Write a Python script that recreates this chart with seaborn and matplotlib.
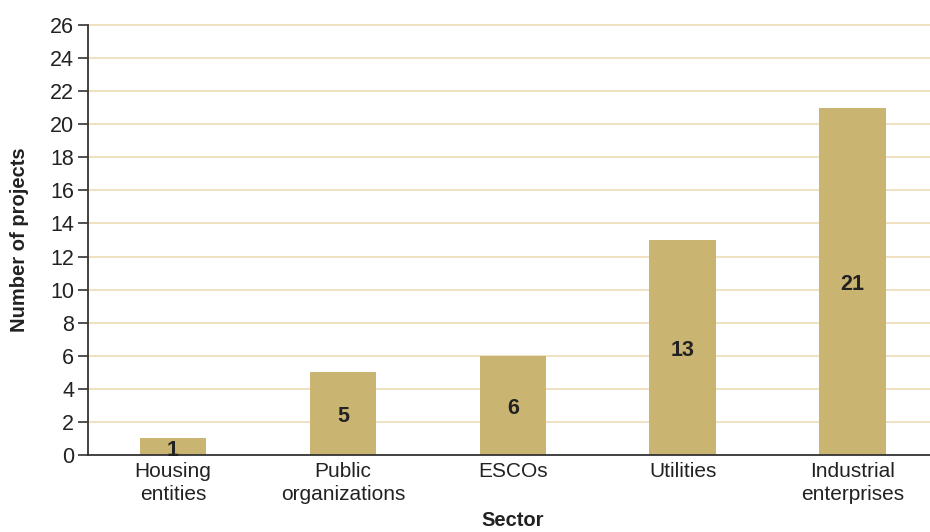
import matplotlib
matplotlib.use("Agg")
import matplotlib.pyplot as plt
import seaborn as sns
import pandas as pd
import numpy as np

sectors = ["Housing\nentities", "Public\norganizations", "ESCOs", "Utilities", "Industrial\nenterprises"]
projects = [1, 5, 6, 13, 21]
y_ticks = list(range(0, 27, 2))

sns.set_theme(style="white")
plt.rcParams["font.family"] = ["Liberation Sans", "DejaVu Sans"]

bar_color = "#C9B472"
grid_color = "#EBDDB8"
text_color = "#222222"
axis_color = "#333333"

df = pd.DataFrame({"Sector": sectors, "Projects": projects})

fig = plt.figure(figsize=(9.3, 5.32), dpi=100)
ax = fig.add_axes([88 / 930, 1 - 455 / 532, 1 - 88 / 930 + 0.008, (455 - 25) / 532])

sns.barplot(data=df, x="Sector", y="Projects", color=bar_color, width=0.39,
            saturation=1, linewidth=0, edgecolor=bar_color, ax=ax, zorder=3)

ax.set_ylim(0, 26)
ax.set_xlim(-0.5, len(sectors) - 0.5)
ax.set_yticks(y_ticks)
ax.set_yticklabels([str(t) for t in y_ticks], fontsize=15.5, color=text_color)

# horizontal gridlines
for t in y_ticks[1:]:
    ax.axhline(t, color=grid_color, lw=1.2, zorder=1, clip_on=False)

# category labels centered, tick marks at the boundaries
ax.set_xticks(range(len(sectors)))
ax.set_xticklabels(sectors, fontsize=15, color=text_color, linespacing=1.3)
ax.tick_params(axis="x", which="major", length=0, pad=5)
ax.set_xticks(np.arange(-0.5, len(sectors), 1.0), minor=True)
ax.tick_params(axis="x", which="minor", length=9, width=1.2, color=axis_color, direction="out")
ax.tick_params(axis="y", which="major", length=7, width=1.2, color=axis_color, direction="out", pad=3, left=True)

for side in ["top", "right"]:
    ax.spines[side].set_visible(False)
for side in ["left", "bottom"]:
    ax.spines[side].set_color(axis_color)
    ax.spines[side].set_linewidth(1.3)
    ax.spines[side].set_zorder(4)

# value labels in the middle of each bar
for i, v in enumerate(projects):
    ax.text(i, v / 2 - 0.2, str(v), ha="center", va="center", fontsize=15.5,
            fontweight="bold", color=text_color, zorder=5)

ax.set_xlabel("Sector", fontsize=14.5, fontweight="bold", color=text_color, labelpad=5)
ax.set_ylabel("Number of projects", fontsize=14.5, fontweight="bold", color=text_color, labelpad=15)

fig.savefig("out.png", dpi=100)
